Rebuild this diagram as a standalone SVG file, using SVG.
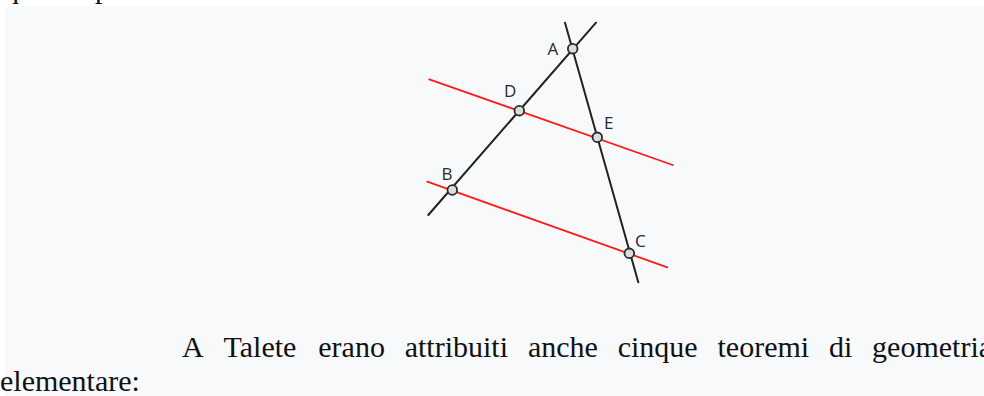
<svg xmlns="http://www.w3.org/2000/svg" width="984" height="396" viewBox="0 0 984 396">
<style>
.bg{fill:#f8f9fa}
.blk{stroke:#222;stroke-width:2;fill:none;stroke-linecap:round}
.red{stroke:#ff1a1a;stroke-width:1.8;fill:none;stroke-linecap:round}
.pt{fill:#dcdcdc;stroke:#2a2a2a;stroke-width:1.8}
.lbl{font-family:"Open Sans","DejaVu Sans",sans-serif;font-size:17px;fill:#2b2b2b}
.body{font-family:"Liberation Serif","Times New Roman",serif;font-size:30px;fill:#111}
</style>
<rect width="984" height="396" fill="#ffffff"/>
<rect class="bg" x="5" y="6" width="979" height="390"/>
<text class="body" y="-2"><tspan x="4">questo</tspan><tspan x="95">problema.</tspan></text>
<g id="connectors">
<line id="red-de" class="red" x1="429.3" y1="79.3" x2="672.7" y2="165"/>
<line id="red-bc" class="red" x1="427.3" y1="181.7" x2="667.3" y2="267.3"/>
<line id="line-ab" class="blk" x1="596" y1="22.7" x2="428.3" y2="215"/>
<line id="line-ac" class="blk" x1="565" y1="22.7" x2="638.3" y2="282.3"/>
</g>
<g id="A"><circle class="pt" cx="572.7" cy="48.7" r="4.8"/><text class="lbl" x="547.5" y="55">A</text></g>
<g id="D"><circle class="pt" cx="519.3" cy="110.7" r="4.8"/><text class="lbl" x="504" y="97">D</text></g>
<g id="E"><circle class="pt" cx="597.3" cy="137.3" r="4.8"/><text class="lbl" x="604" y="129">E</text></g>
<g id="B"><circle class="pt" cx="452.3" cy="190" r="4.8"/><text class="lbl" x="441.5" y="180">B</text></g>
<g id="C"><circle class="pt" cx="629.3" cy="253.3" r="4.8"/><text class="lbl" x="635" y="247">C</text></g>
<text class="body" y="357"><tspan x="182">A</tspan><tspan x="223.5">Talete</tspan><tspan x="318.3">erano</tspan><tspan x="404.7">attribuiti</tspan><tspan x="527.9">anche</tspan><tspan x="617.7">cinque</tspan><tspan x="717.5">teoremi</tspan><tspan x="829">di</tspan><tspan x="872.1">geometria</tspan></text>
<text class="body" y="391"><tspan x="0">elementare:</tspan></text>
</svg>
